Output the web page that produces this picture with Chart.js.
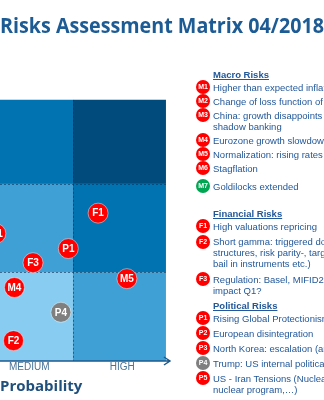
<!DOCTYPE html>
<html>
<head>
<meta charset="utf-8">
<script src="https://cdn.jsdelivr.net/npm/chart.js@4.4.1/dist/chart.umd.min.js"></script>
<style>
html, body { margin: 0; padding: 0; background: #fff; }
#wrap { position: relative; width: 324px; height: 400px; overflow: hidden; }
#risks { position: absolute; left: 0; top: 0; }
#legend { position: absolute; left: 196px; top: 69px; font-family: "Liberation Sans", Arial, sans-serif;
  font-size: 9.5px; color: #22589a; white-space: nowrap; }
#legend .head { padding-left: 17px; font-weight: bold; text-decoration: underline; line-height: 11px; }
#legend .item { position: relative; padding-left: 17px; line-height: 11px; margin-top: 3px; }
#legend .g1 .item { margin-top: 4.5px; }
#legend .g2 .item { margin-top: 4px; }
#legend .group .head + .item { margin-top: 1.5px; }
#legend .dot { position: absolute; left: 0; top: -1.5px; width: 14px; height: 14px; border-radius: 50%;
  color: #fff; font-size: 7px; font-weight: bold; text-align: center; line-height: 14px; }
</style>
</head>
<body>
<div id="wrap">
  <canvas id="risks" width="324" height="400"></canvas>
  <div id="legend"></div>
</div>
<script>
// matrix points
const pointCodes  = ['F1', 'P1', 'F3', 'M4', 'M5', 'M1', 'P4', 'F2'];
const probability = [2.27, 1.95, 1.57, 1.37, 2.58, 1.17, 1.87, 1.36];
const impact      = [1.67, 1.27, 1.11, 0.83, 0.93, 1.44, 0.55, 0.23];

// axis
const probTicks  = [1.53, 2.53];
const probLabels = ['MEDIUM', 'HIGH'];
const probBands  = [[1, 2], [2, 3]];
const impactBands = [[0, 1], [1, 2], [2, 3]];

// legend
const groupTitles = ['Macro Risks', 'Financial Risks', 'Political Risks'];
const macroRisks = [
    ['M1', 'Higher than expected inflation'],
    ['M2', 'Change of loss function of Fed'],
    ['M3', 'China: growth disappoints', 'shadow banking'],
    ['M4', 'Eurozone growth slowdown'],
    ['M5', 'Normalization: rising rates'],
    ['M6', 'Stagflation'],
    ['M7', 'Goldilocks extended']
];
const financialRisks = [
    ['F1', 'High valuations repricing'],
    ['F2', 'Short gamma: triggered downside', 'structures, risk parity-, target vol', 'bail in instruments etc.)'],
    ['F3', 'Regulation: Basel, MIFID2', 'impact Q1?']
];
const politicalRisks = [
    ['P1', 'Rising Global Protectionism'],
    ['P2', 'European disintegration'],
    ['P3', 'North Korea: escalation (arms)'],
    ['P4', 'Trump: US internal political'],
    ['P5', 'US - Iran Tensions (Nuclear', 'nuclear program,\u2026)']
];

const cellColors = [
    ['#88cdf1', '#3fa0d5'],
    ['#3fa0d5', '#0073b0'],
    ['#0073b0', '#004b7c']
];
function colorOf(code) {
    if (code === 'M7') return '#00a651';
    if (code === 'P4') return '#7f7f7f';
    return '#ff0000';
}

// legend html
const legend = document.getElementById('legend');
[macroRisks, financialRisks, politicalRisks].forEach(function(list, g) {
    let group = document.createElement('div');
    group.className = 'group g' + g;
    group.style.marginTop = ['0px', '16.5px', '4.5px'][g];
    let head = document.createElement('div');
    head.className = 'head';
    head.textContent = groupTitles[g];
    group.appendChild(head);
    list.forEach(function(row) {
        let item = document.createElement('div');
        item.className = 'item';
        if (row[0] === 'M7') item.style.marginTop = '7px';
        let dot = document.createElement('span');
        dot.className = 'dot';
        dot.style.background = colorOf(row[0]);
        dot.textContent = row[0];
        item.appendChild(dot);
        row.slice(1).forEach(function(line, i) {
            if (i > 0) item.appendChild(document.createElement('br'));
            item.appendChild(document.createTextNode(line));
        });
        group.appendChild(item);
    });
    legend.appendChild(group);
});

const matrixPlugin = {
    id: 'matrix',
    beforeDatasetsDraw(chart) {
        const { ctx, chartArea, scales: { x, y } } = chart;
        ctx.save();
        ctx.beginPath();
        ctx.rect(chartArea.left, chartArea.top, chartArea.width, chartArea.height);
        ctx.clip();
        impactBands.forEach(function(ib, r) {
            probBands.forEach(function(pb, c) {
                const x0 = x.getPixelForValue(pb[0]), x1 = x.getPixelForValue(pb[1]);
                const y0 = y.getPixelForValue(ib[1]), y1 = y.getPixelForValue(ib[0]);
                ctx.fillStyle = cellColors[r][c];
                ctx.fillRect(x0, y0, x1 - x0, y1 - y0);
            });
        });
        // dotted cell borders
        ctx.strokeStyle = 'rgba(10, 50, 90, 0.6)';
        ctx.lineWidth = 1;
        ctx.setLineDash([2, 2]);
        const left = x.getPixelForValue(probBands[0][0]);
        const right = x.getPixelForValue(probBands[probBands.length - 1][1]);
        ctx.beginPath();
        const xm = Math.round(x.getPixelForValue(probBands[1][0])) + 0.5;
        ctx.moveTo(xm, chartArea.top);
        ctx.lineTo(xm, chartArea.bottom);
        [1, 2].forEach(function(v) {
            const yy = Math.round(y.getPixelForValue(v)) + 0.5;
            ctx.moveTo(left, yy);
            ctx.lineTo(right, yy);
        });
        ctx.stroke();
        ctx.restore();

        // axis arrow
        ctx.save();
        const yb = chartArea.bottom;
        const tip = right + 4;
        ctx.strokeStyle = '#1f5a8c';
        ctx.lineWidth = 1.5;
        ctx.beginPath();
        ctx.moveTo(0, yb);
        ctx.lineTo(tip, yb);
        ctx.moveTo(tip - 6, yb - 4);
        ctx.lineTo(tip, yb);
        ctx.lineTo(tip - 6, yb + 4);
        ctx.stroke();
        ctx.restore();
    },
    afterDatasetsDraw(chart) {
        const { ctx } = chart;
        const meta = chart.getDatasetMeta(0);
        ctx.save();
        ctx.fillStyle = '#fff';
        ctx.font = 'bold 10px "Liberation Sans", Arial, sans-serif';
        ctx.textAlign = 'center';
        ctx.textBaseline = 'middle';
        meta.data.forEach(function(pt, i) {
            ctx.fillText(pointCodes[i], pt.x, pt.y + 0.5);
        });
        ctx.restore();
    }
};

let ctx = document.getElementById('risks').getContext('2d');
let risks = new Chart(ctx, {
    type: 'scatter',
    data: {
        datasets: [{
            data: probability.map(function(p, i) { return { x: p, y: impact[i] }; }),
            pointRadius: 10,
            pointHoverRadius: 10,
            pointBackgroundColor: pointCodes.map(colorOf),
            pointBorderColor: 'rgba(255, 255, 255, 0.45)',
            pointBorderWidth: 1,
            clip: false
        }]
    },
    options: {
        responsive: false,
        animation: false,
        layout: { padding: 0, autoPadding: false },
        plugins: {
            legend: { display: false },
            tooltip: { enabled: false },
            title: {
                display: true,
                text: 'Risks Assessment Matrix 04/2018',
                color: '#1d5b94',
                font: { family: '"Open Sans", sans-serif', size: 21.5, weight: 'bold' },
                padding: { top: 14, bottom: 60 }
            }
        },
        scales: {
            x: {
                type: 'linear',
                min: 1.215,
                max: 4.7,
                afterBuildTicks: function(axis) {
                    axis.ticks = probTicks.map(function(v) { return { value: v }; });
                },
                ticks: {
                    padding: 0,
                    color: '#4a7396',
                    font: { family: '"Liberation Sans", Arial, sans-serif', size: 10 },
                    callback: function(value) { return probLabels[probTicks.indexOf(value)]; }
                },
                grid: { display: false, drawTicks: false },
                border: { display: false },
                title: {
                    display: true,
                    text: 'Probability',
                    align: 'start',
                    color: '#1f4f7d',
                    font: { family: '"Open Sans", sans-serif', size: 15, weight: 'bold' },
                    padding: { top: 5, bottom: 4 }
                }
            },
            y: {
                type: 'linear',
                min: 0,
                max: 2.95,
                display: false
            }
        }
    },
    plugins: [matrixPlugin]
});
</script>
</body>
</html>
